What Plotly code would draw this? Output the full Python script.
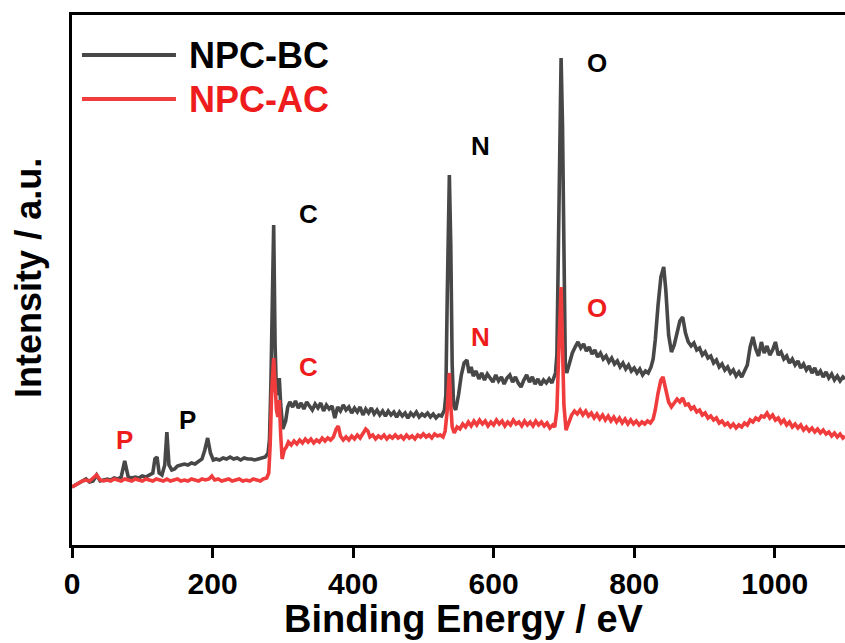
import plotly.graph_objects as go

# ---------------- data ----------------
# (binding energy eV, intensity a.u.)
bc_points = [
    (0, 58), (5, 60), (10, 62), (15, 63), (20, 66), (25, 63), (30, 64), (35, 70), (40, 64),
    (45, 65), (50, 66), (55, 65), (60, 67), (65, 66), (70, 68), (75, 84), (80, 68), (85, 67),
    (90, 68), (95, 67), (100, 69), (105, 68), (110, 70), (115, 72), (118, 86), (121, 88),
    (124, 72), (128, 70), (132, 80), (135, 113), (138, 80), (142, 75), (146, 76), (150, 79),
    (155, 80), (160, 81), (165, 80), (170, 82), (175, 81), (180, 83), (185, 86), (189, 95),
    (193, 107), (197, 92), (201, 85), (205, 86), (210, 85), (215, 87), (220, 86), (225, 88),
    (230, 86), (235, 87), (240, 85), (245, 87), (250, 86), (255, 86), (260, 85), (265, 86),
    (270, 87), (275, 88), (279, 92), (281, 105), (283, 160), (285, 260), (287, 320),
    (289, 200), (291, 150), (293, 155), (295, 167), (297, 140), (300, 116),
    (304, 124), (307, 138), (310, 143), (314, 138), (318, 144), (322, 137), (326, 142),
    (330, 136), (334, 143), (338, 139), (342, 135), (346, 141), (350, 137), (354, 142),
    (358, 134), (362, 140), (366, 136), (370, 139), (374, 127), (378, 138), (382, 134),
    (386, 140), (390, 135), (394, 138), (398, 132), (402, 137), (406, 133), (410, 138),
    (414, 130), (418, 136), (422, 132), (426, 137), (430, 131), (434, 135), (438, 130),
    (442, 134), (446, 129), (450, 134), (454, 130), (458, 133), (462, 128), (466, 133),
    (470, 129), (474, 132), (478, 127), (482, 132), (486, 129), (490, 133), (494, 128),
    (498, 131), (502, 129), (506, 132), (510, 128), (514, 131), (518, 127), (522, 130),
    (526, 129), (530, 135), (532, 150), (534, 250), (537, 370), (539, 300), (541, 180),
    (543, 140), (546, 135), (550, 150), (554, 170), (558, 182), (562, 185),
    (565, 172), (568, 178), (571, 169), (575, 174), (579, 166), (583, 172), (587, 165),
    (591, 171), (595, 167), (599, 163), (603, 170), (607, 164), (611, 168), (615, 161),
    (619, 167), (623, 170), (627, 163), (631, 168), (635, 162), (639, 158), (643, 165),
    (647, 170), (651, 163), (655, 168), (659, 161), (663, 166), (667, 160), (671, 165),
    (675, 162), (679, 166), (683, 162), (686, 168), (688, 172), (690, 190), (692, 300),
    (694, 420), (696, 487), (698, 420), (700, 260), (702, 180), (704, 172),
    (708, 182), (712, 192), (716, 198), (720, 203), (724, 197), (728, 201), (732, 194),
    (736, 198), (740, 191), (744, 195), (748, 188), (752, 192), (756, 186), (760, 189),
    (764, 183), (768, 187), (772, 181), (776, 184), (780, 178), (784, 182), (788, 176),
    (792, 180), (796, 174), (800, 177), (804, 172), (808, 176), (812, 170), (816, 174),
    (820, 172), (824, 178), (827, 186), (830, 205), (834, 240), (838, 268),
    (842, 278), (845, 255), (849, 210), (853, 193), (857, 200), (861, 214), (865, 224),
    (869, 228), (873, 212), (877, 203), (881, 199), (885, 202), (889, 195), (893, 197),
    (897, 190), (901, 193), (905, 187), (909, 189), (913, 182), (917, 185), (921, 178),
    (925, 181), (929, 175), (933, 178), (937, 172), (941, 175), (945, 169), (949, 173),
    (953, 168), (957, 174), (961, 180), (965, 198), (969, 208), (973, 196), (977, 189),
    (981, 203), (985, 192), (989, 199), (993, 190), (997, 195), (1001, 203), (1005, 190),
    (1009, 193), (1013, 186), (1017, 189), (1021, 182), (1025, 186), (1029, 180),
    (1033, 184), (1037, 177), (1041, 181), (1045, 175), (1049, 179), (1053, 172),
    (1057, 177), (1061, 170), (1065, 174), (1069, 168), (1073, 173), (1077, 167),
    (1081, 171), (1085, 165), (1089, 169), (1093, 164), (1097, 168), (1100, 166),
]

ac_points = [
    (0, 58), (5, 60), (10, 63), (15, 64), (20, 65), (25, 64), (30, 67), (35, 70), (40, 65),
    (45, 64), (50, 65), (55, 64), (60, 66), (65, 65), (70, 64), (75, 66), (80, 65), (85, 64),
    (90, 66), (95, 65), (100, 64), (105, 66), (110, 65), (115, 64), (120, 66), (125, 65),
    (130, 64), (135, 66), (140, 64), (145, 65), (150, 66), (155, 64), (160, 65), (165, 64),
    (170, 66), (175, 65), (180, 64), (185, 66), (190, 65), (195, 66), (199, 69), (203, 65),
    (208, 66), (213, 64), (218, 65), (223, 66), (228, 64), (233, 65), (238, 66), (243, 64),
    (248, 65), (253, 64), (258, 66), (263, 65), (268, 64), (272, 66), (277, 67),
    (280, 72), (282, 100), (284, 150), (287, 187), (289, 160), (291, 135), (293, 128),
    (295, 145), (297, 110), (299, 86), (302, 95),
    (305, 98), (308, 103), (312, 100), (316, 104), (320, 101), (324, 105), (328, 102),
    (332, 106), (336, 103), (340, 106), (344, 102), (348, 105), (352, 103), (356, 107),
    (360, 104), (364, 107), (368, 105), (372, 108), (376, 116), (379, 119), (382, 109),
    (386, 105), (390, 108), (394, 105), (398, 109), (402, 106), (406, 110), (410, 107),
    (414, 111), (418, 116), (421, 114), (424, 108), (428, 110), (432, 106), (436, 109),
    (440, 107), (444, 110), (448, 106), (452, 109), (456, 107), (460, 110), (464, 107),
    (468, 109), (472, 106), (476, 110), (480, 107), (484, 109), (488, 106), (492, 110),
    (496, 108), (500, 111), (504, 108), (508, 110), (512, 107), (516, 111), (520, 109),
    (524, 110), (528, 108), (531, 114), (534, 135), (536, 162), (537, 172), (539, 140),
    (541, 118), (544, 112), (548, 118), (552, 116), (556, 121),
    (560, 118), (564, 123), (568, 119), (572, 124), (576, 120), (580, 125), (584, 121),
    (588, 124), (592, 119), (596, 123), (600, 120), (604, 125), (608, 121), (612, 124),
    (616, 119), (620, 123), (624, 120), (628, 125), (632, 121), (636, 123), (640, 119),
    (644, 124), (648, 120), (652, 123), (656, 119), (660, 124), (664, 120), (668, 123),
    (672, 119), (676, 122), (680, 117), (684, 120), (687, 118), (690, 135), (693, 200),
    (696, 258), (698, 200), (700, 140), (703, 115),
    (707, 124), (711, 130), (715, 134), (719, 131), (723, 135), (727, 130),
    (731, 134), (735, 129), (739, 132), (743, 127), (747, 131), (751, 126), (755, 130),
    (759, 125), (763, 129), (767, 124), (771, 128), (775, 123), (779, 127), (783, 122),
    (787, 126), (791, 121), (795, 125), (799, 121), (803, 124), (807, 120), (811, 123),
    (815, 121), (819, 124), (823, 122), (827, 126), (830, 135), (834, 152), (838, 165),
    (841, 168), (845, 155), (849, 143), (853, 138), (857, 142), (861, 146), (865, 143),
    (869, 147), (873, 140), (877, 141), (881, 136), (885, 138), (889, 133), (893, 135),
    (897, 130), (901, 132), (905, 127), (909, 129), (913, 125), (917, 127), (921, 122),
    (925, 124), (929, 120), (933, 122), (937, 118), (941, 121), (945, 117), (949, 120),
    (953, 118), (957, 122), (961, 120), (965, 125), (969, 123), (973, 127), (977, 125),
    (981, 129), (985, 128), (989, 132), (993, 127), (997, 130), (1001, 125), (1005, 127),
    (1009, 122), (1013, 125), (1017, 120), (1021, 123), (1025, 118), (1029, 121),
    (1033, 117), (1037, 120), (1041, 115), (1045, 118), (1049, 114), (1053, 117),
    (1057, 113), (1061, 116), (1065, 112), (1069, 115), (1073, 111), (1077, 113),
    (1081, 109), (1085, 112), (1089, 108), (1093, 111), (1097, 107), (1100, 109),
]

bc_x = [p[0] for p in bc_points]
bc_y = [p[1] for p in bc_points]
ac_x = [p[0] for p in ac_points]
ac_y = [p[1] for p in ac_points]

series_names = ["NPC-BC", "NPC-AC"]
series_colors = ["#474747", "#f03c3c"]
label_colors = ["black", "#ee1c1c"]

x_ticks = [0, 200, 400, 600, 800, 1000]

peak_labels = ["P", "C", "N", "O"]
peak_x_bc = [164, 336, 581, 747]
peak_y_bc = [125, 331, 399, 482]
peak_x_ac = [75, 336, 581, 747]
peak_y_ac = [105, 178, 208, 237]

FONT = "Liberation Sans, Arial, sans-serif"

fig = go.Figure()
fig.add_trace(go.Scatter(x=bc_x, y=bc_y, mode="lines", name=series_names[0],
                         line=dict(color=series_colors[0], width=3.6), showlegend=False))
fig.add_trace(go.Scatter(x=ac_x, y=ac_y, mode="lines", name=series_names[1],
                         line=dict(color=series_colors[1], width=3.6), showlegend=False))

# peak labels
for lab, px, py in zip(peak_labels, peak_x_bc, peak_y_bc):
    fig.add_annotation(x=px, y=py, text="<b>%s</b>" % lab, showarrow=False,
                       font=dict(family=FONT, size=26, color=label_colors[0]))
for lab, px, py in zip(peak_labels, peak_x_ac, peak_y_ac):
    fig.add_annotation(x=px, y=py, text="<b>%s</b>" % lab, showarrow=False,
                       font=dict(family=FONT, size=26, color=label_colors[1]))

# legend (drawn manually to match the long sample lines)
leg_y = [0.9245, 0.8415]
for name, col, tcol, ly in zip(series_names, series_colors, label_colors, leg_y):
    fig.add_shape(type="line", xref="paper", yref="paper", x0=0.0129, x1=0.1345,
                  y0=ly, y1=ly, line=dict(color=col, width=4))
    fig.add_annotation(xref="paper", yref="paper", x=0.149, y=ly, xanchor="left",
                       yanchor="middle", text="<b>%s</b>" % name, showarrow=False,
                       font=dict(family=FONT, size=36, color=tcol))

# axis titles
fig.add_annotation(xref="paper", yref="paper", x=0.507, y=-0.183, yanchor="bottom",
                   text="<b>Binding Energy / eV</b>", showarrow=False,
                   font=dict(family=FONT, size=38, color="black"))
fig.add_annotation(xref="paper", yref="paper", x=-0.0556, y=0.504, xanchor="center",
                   yanchor="middle", textangle=-90,
                   text="<b>Intensity / a.u.</b>", showarrow=False,
                   font=dict(family=FONT, size=36, color="black"))

fig.update_layout(
    width=845, height=643,
    margin=dict(l=72, r=0, t=15, b=98),
    paper_bgcolor="white", plot_bgcolor="white",
    font=dict(family=FONT),
    xaxis=dict(range=[0, 1100], tickvals=x_ticks, ticktext=[str(v) for v in x_ticks],
               showline=True, linecolor="black", linewidth=3, mirror=True,
               ticks="outside", ticklen=10, tickwidth=3, tickcolor="black",
               showgrid=False, zeroline=False,
               tickfont=dict(family=FONT, size=30, color="black", weight="bold")),
    yaxis=dict(range=[0, 530], showline=True, linecolor="black", linewidth=3,
               mirror=False, ticks="", showticklabels=False, showgrid=False,
               zeroline=False),
)

fig.write_html("out.html")
